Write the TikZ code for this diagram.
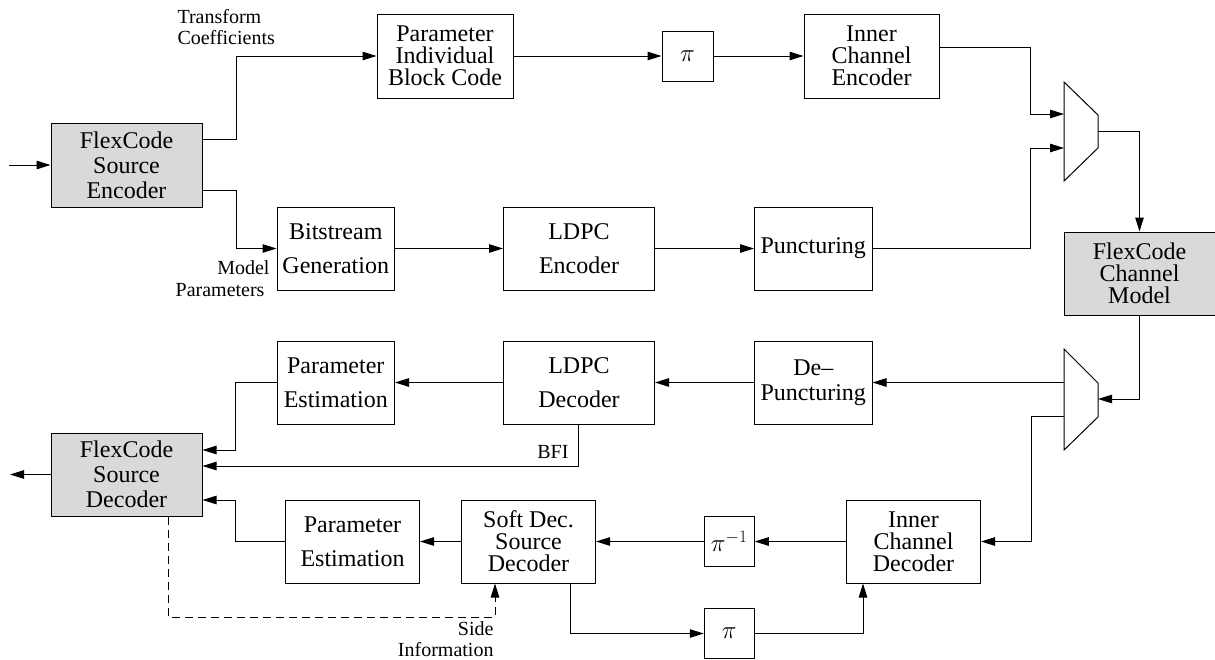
\documentclass[tikz,border=0pt]{standalone}
\usepackage{fontspec}
\setmainfont{Liberation Serif}
\usetikzlibrary{arrows.meta}
\begin{document}
\begin{tikzpicture}[x=1pt,y=-1pt,
  line width=1pt,
  arr/.style={-{Triangle[length=14pt,width=8.5pt]}},
  blk/.style={draw, inner sep=0pt, align=center, font=\fontsize{24}{22}\selectfont},
  blkwide/.style={blk, font=\fontsize{24}{34}\selectfont},
  blksrc/.style={blk, fill=black!15, font=\fontsize{24}{24.8}\selectfont},
  lbl/.style={inner sep=0pt, font=\fontsize{20}{21}\selectfont},
  sidelink/.style={arr, dash pattern=on 8pt off 5pt}]
\useasboundingbox (0,0) rectangle (1215,659);

% transmitter
\node[blksrc, minimum width=151pt, minimum height=84pt] (senc) at (126.5,165) {FlexCode\\Source\\Encoder};
\node[blk, minimum width=136pt, minimum height=84pt] (pibc) at (445,56) {Parameter\\Individual\\Block Code};
\node[blk, minimum width=51pt, minimum height=50pt] (pi1) at (687.5,56) {$\pi$};
\node[blk, minimum width=135pt, minimum height=84pt] (ice) at (871.5,56) {Inner\\Channel\\Encoder};
\node[blkwide, minimum width=117.5pt, minimum height=83pt] (bsg) at (335.75,248.5) {Bitstream\\Generation};
\node[blkwide, minimum width=151pt, minimum height=83pt] (ldpce) at (579,248.5) {LDPC\\Encoder};
\node[blkwide, minimum width=117.5pt, minimum height=83pt] (punc) at (813.25,248.5) {Puncturing};

% channel
\node[blk, fill=black!15, minimum width=151pt, minimum height=83pt] (chm) at (1139.5,273.5) {FlexCode\\Channel\\Model};

% multiplexer and demultiplexer
\draw (1064,82) -- (1098,115) -- (1098,148) -- (1064,181) -- cycle;
\draw (1064,349) -- (1098,383) -- (1098,417) -- (1064,450) -- cycle;
\coordinate (m1a) at (1064,114);
\coordinate (m1b) at (1064,148);
\coordinate (m1o) at (1098,131);
\coordinate (m2i) at (1098,399);
\coordinate (m2a) at (1064,382.5);
\coordinate (m2b) at (1064,416);

% receiver
\node[blk, font=\fontsize{24}{25}\selectfont, minimum width=117.5pt, minimum height=83pt] (dpunc) at (813.25,382.5) {De–\\Puncturing};
\node[blkwide, minimum width=151pt, minimum height=83pt] (ldpcd) at (579,382.5) {LDPC\\Decoder};
\node[blkwide, minimum width=117.5pt, minimum height=83pt] (pe1) at (335.75,382.5) {Parameter\\Estimation};
\node[blksrc, minimum width=151pt, minimum height=83pt] (sdec) at (126.5,474.5) {FlexCode\\Source\\Decoder};
\node[blkwide, minimum width=134pt, minimum height=83pt] (pe2) at (352.5,541.5) {Parameter\\Estimation};
\node[blk, minimum width=134pt, minimum height=83pt] (sdd) at (528.5,541.5) {Soft Dec.\\Source\\Decoder};
\node[blk, minimum width=50pt, minimum height=50pt] (pinv) at (729.25,541.5) {$\pi^{-1}$};
\node[blk, minimum width=134pt, minimum height=83pt] (icd) at (913.5,541.5) {Inner\\Channel\\Decoder};
\node[blk, minimum width=50pt, minimum height=50pt] (pi2) at (729.25,633.5) {$\pi$};

\coordinate (in) at (9,165);
\coordinate (out) at (10,474.5);

% labels
\node[lbl, anchor=base west] (ltc1) at (177,23.3) {Transform};
\node[lbl, anchor=base west] (ltc2) at (177,44) {Coefficients};
\node[lbl, anchor=base east] (lmp1) at (270,274) {Model};
\node[lbl, anchor=base east] (lmp2) at (265,296.5) {Parameters};
\node[lbl, anchor=base east] (lbfi) at (569,458) {BFI};
\node[lbl, anchor=base east] (lsi1) at (494,635) {Side};
\node[lbl, anchor=base east] (lsi2) at (494,656) {Information};

% transmitter connections
\draw[arr] (in) -- (senc.west);
\draw[arr] ([yshift=26pt]senc.east) -- (236,139) -- (236,56) -- (pibc.west);
\draw[arr] ([yshift=-25pt]senc.east) -- (236,190) -- (236,248.5) -- (bsg.west);
\draw[arr] (pibc.east) -- (pi1.west);
\draw[arr] (pi1.east) -- (ice.west);
\draw[arr] ([yshift=9pt]ice.east) -- (1030,47) -- (1030,114) -- (m1a);
\draw[arr] (bsg.east) -- (ldpce.west);
\draw[arr] (ldpce.east) -- (punc.west);
\draw[arr] (punc.east) -- (1030,248.5) -- (1030,148) -- (m1b);
\draw[arr] (m1o) -| (chm.north);
\draw[arr] (chm.south) |- (m2i);

% receiver connections
\draw[arr] (m2a) -- (dpunc.east);
\draw[arr] (dpunc.west) -- (ldpcd.east);
\draw[arr] (ldpcd.west) -- (pe1.east);
\draw[arr] (pe1.west) -- (235,382.5) -- (235,450) -- ([yshift=24.5pt]sdec.east);
\draw[arr] ([xshift=-0.5pt]ldpcd.south) |- ([yshift=8.5pt]sdec.east);
\draw[arr] (m2b) -- (1031,416) -- (1031,541.5) -- (icd.east);
\draw[arr] (icd.west) -- (pinv.east);
\draw[arr] (pinv.west) -- (sdd.east);
\draw[arr] (sdd.west) -- (pe2.east);
\draw[arr] (pe2.west) -- (235,541.5) -- (235,500) -- ([yshift=-25.5pt]sdec.east);
\draw[arr] ([xshift=41.5pt]sdd.south) |- (pi2.west);
\draw[arr] (pi2.east) -| ([xshift=-50.5pt]icd.south);
\draw[sidelink] ([xshift=42pt]sdec.south) -- (168.5,617) -| ([xshift=-33.5pt]sdd.south);
\draw[arr] (sdec.west) -- (out);
\end{tikzpicture}
\end{document}
